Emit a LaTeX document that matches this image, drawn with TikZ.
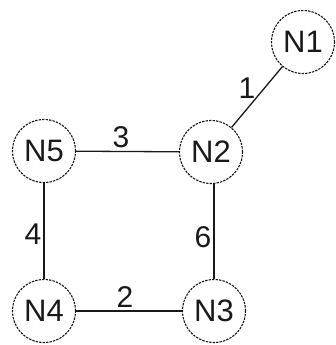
\documentclass[tikz,border=0pt]{standalone}
\usepackage{fontspec}
\setmainfont{Liberation Sans}
\begin{document}
\begin{tikzpicture}[x=1pt,y=-1pt,
  netnode/.style={circle,draw=black!90,line width=1.1pt,dash pattern=on 2.4pt off 1.1pt,minimum size=63pt,inner sep=0pt,font=\fontsize{31}{31}\selectfont,text=black!90},
  edge/.style={draw=black!90,line width=1.3pt},
  elabel/.style={font=\fontsize{30}{30}\selectfont,text=black!90,inner sep=0pt}]
\useasboundingbox (0,0) rectangle (336,345);
\node[netnode] (N1) at (303,42) {N1};
\node[netnode] (N2) at (211,152) {N2};
\node[netnode] (N5) at (44,151) {N5};
\node[netnode] (N4) at (44,311) {N4};
\node[netnode] (N3) at (214,311) {N3};
\draw[edge] (N2) -- (N1);
\draw[edge] (N5) -- (N2);
\draw[edge] (N5) -- (N4);
\draw[edge] (N4) -- (N3);
\draw[edge] (N2.south -| N3) -- (N3);
\node[elabel] (l1) at (247,88) {1};
\node[elabel] (l3) at (121,137) {3};
\node[elabel] (l4) at (33,234) {4};
\node[elabel] (l6) at (203,237) {6};
\node[elabel] (l2) at (125,297) {2};
\end{tikzpicture}
\end{document}
